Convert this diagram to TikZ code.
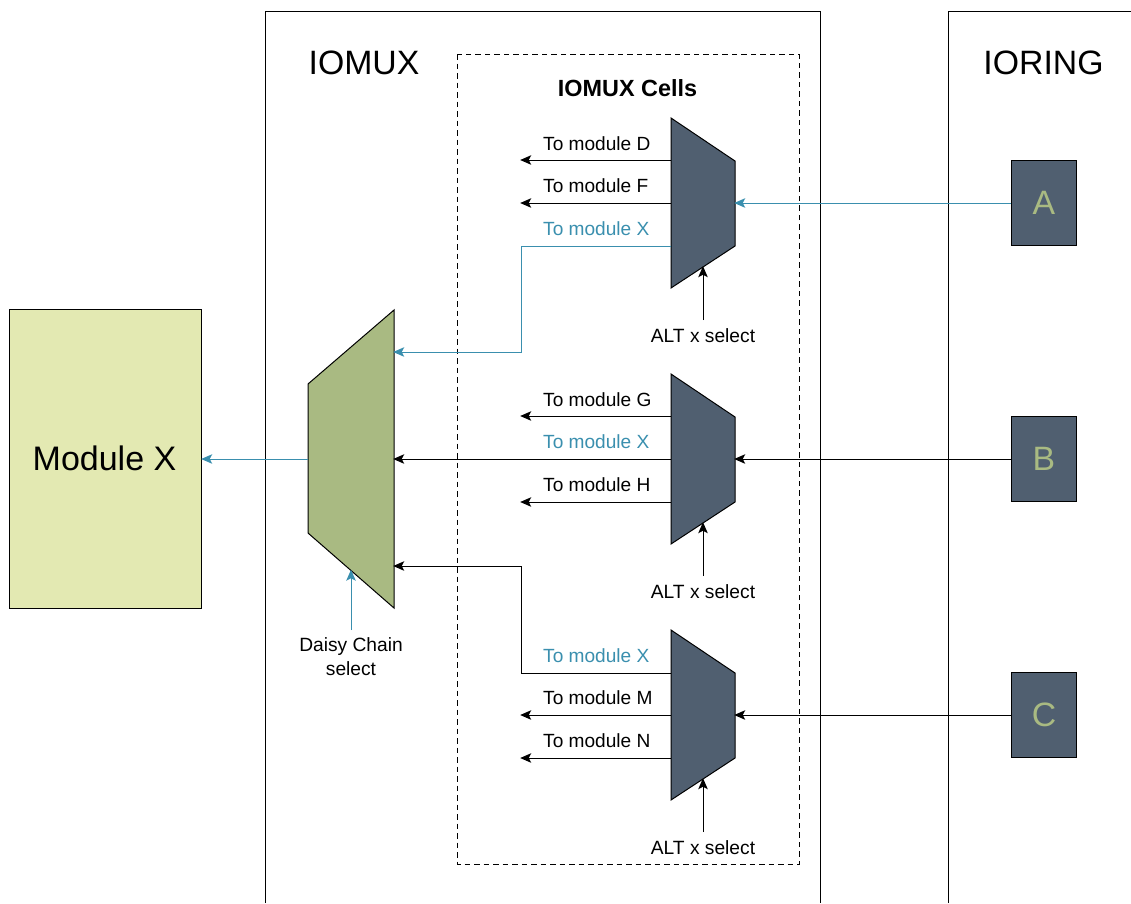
\documentclass[tikz,border=0pt]{standalone}
\usepackage{fontspec}
\setmainfont{Liberation Sans}
\usetikzlibrary{arrows.meta}
\definecolor{teal}{HTML}{3A8FAE}
\definecolor{slate}{HTML}{505F70}
\definecolor{olive}{HTML}{A9BA82}
\definecolor{pale}{HTML}{E3E9B2}
\tikzset{
  x=1pt,y=-1pt,
  conn/.style={line width=1pt,shorten >=-0.8pt,-{Stealth[length=11pt,width=9.5pt,inset=2.5pt]}},
  tealconn/.style={conn,draw=teal},
  muxshape/.style={fill=slate,draw=black,line width=1pt},
  frameline/.style={draw=black,line width=1pt},
  lbl/.style={font=\fontsize{19.1}{21}\selectfont,inner sep=0pt,anchor=base west},
  tlbl/.style={lbl,text=teal},
  sel/.style={font=\fontsize{19.2}{24}\selectfont,inner sep=0pt,align=center},
  big/.style={font=\fontsize{33.8}{36}\selectfont,inner sep=0pt},
  pad/.style={fill=slate,draw=black,line width=1pt,minimum width=65pt,minimum height=85pt,inner sep=0pt,text=olive,font=\fontsize{33.8}{36}\selectfont},
}
\begin{document}
\begin{tikzpicture}
\useasboundingbox (0,0) rectangle (1131,903);
% frames
\draw[frameline] (265.5,903) -- (265.5,11) -- (820.5,11) -- (820.5,903);
\draw[frameline] (948,903) -- (948,11) -- (1131,11);
\draw[line width=1pt,dash pattern=on 5.5pt off 4pt] (457.5,54) rectangle (799,864);
\node[big] (tiomux) at (364,63) {IOMUX};
\node[big] (tioring) at (1043.5,63) {IORING};
\node[inner sep=0pt,font=\fontsize{23.4}{25}\selectfont\bfseries] (tcells) at (627.5,88) {IOMUX Cells};
% module X
\node[fill=pale,draw=black,line width=1pt,minimum width=192pt,minimum height=299pt,inner sep=0pt,font=\fontsize{34}{36}\selectfont] (modx) at (105.5,458.5) {\hspace{-2pt}Module X};
% daisy mux
\draw[fill=olive,draw=black,line width=1pt] (394,310) -- (394,608) -- (308,533) -- (308,384) -- cycle;
\coordinate (dout) at (308,459);
\coordinate (din1) at (394,352);
\coordinate (din2) at (394,459);
\coordinate (din3) at (394,566);
\coordinate (dsel) at (351,570.5);
\node[sel] (dtext) at (351,656.5) {Daisy Chain\\select};
\coordinate (dtop) at (351,630);
\draw[tealconn] (dout) -- (modx.east |- dout);
\draw[tealconn] (dtop) -- (dsel);
% muxes
\draw[muxshape] (671,118) -- (735,161) -- (735,246) -- (671,288) -- cycle;
\draw[muxshape] (671,374) -- (735,417) -- (735,502) -- (671,544) -- cycle;
\draw[muxshape] (671,630) -- (735,673) -- (735,758) -- (671,800) -- cycle;
% pads
\node[pad] (A) at (1044,202.5) {A};
\node[pad] (B) at (1044,458.5) {B};
\node[pad] (C) at (1044,714.5) {C};
% ports mux 1
\coordinate (m1a) at (671,160); \coordinate (e1a) at (521,160);
\coordinate (m1b) at (671,203); \coordinate (e1b) at (521,203);
\coordinate (m1c) at (671,246); \coordinate (k1a) at (521.5,246); \coordinate (k1b) at (521.5,352);
\coordinate (m1i) at (735,203);
\coordinate (m1s) at (703,267); \coordinate (s1) at (703,320);
% ports mux 2
\coordinate (m2a) at (671,416); \coordinate (e2a) at (521,416);
\coordinate (m2b) at (671,459);
\coordinate (m2c) at (671,502); \coordinate (e2c) at (521,502);
\coordinate (m2i) at (735,459);
\coordinate (m2s) at (703,523); \coordinate (s2) at (703,576);
% ports mux 3
\coordinate (m3a) at (671,673); \coordinate (k3a) at (521.5,673); \coordinate (k3b) at (521.5,566);
\coordinate (m3b) at (671,715); \coordinate (e3b) at (521,715);
\coordinate (m3c) at (671,758); \coordinate (e3c) at (521,758);
\coordinate (m3i) at (735,715);
\coordinate (m3s) at (703,779); \coordinate (s3) at (703,832);
% connectors
\draw[conn] (m1a) -- (e1a);
\draw[conn] (m1b) -- (e1b);
\draw[tealconn] (m1c) -- (k1a) -- (k1b) -- (din1);
\draw[tealconn] (A.west |- m1i) -- (m1i);
\draw[conn] (s1) -- (m1s);
\draw[conn] (m2a) -- (e2a);
\draw[conn] (m2b) -- (din2);
\draw[conn] (m2c) -- (e2c);
\draw[conn] (B.west |- m2i) -- (m2i);
\draw[conn] (s2) -- (m2s);
\draw[conn] (m3a) -- (k3a) -- (k3b) -- (din3);
\draw[conn] (m3b) -- (e3b);
\draw[conn] (m3c) -- (e3c);
\draw[conn] (C.west |- m3i) -- (m3i);
\draw[conn] (s3) -- (m3s);
% labels
\node[lbl] (l1) at (543,150) {To module D};
\node[lbl] (l2) at (543,192) {To module F};
\node[tlbl] (l3) at (543,235) {To module X};
\node[sel] (a1) at (703,335.5) {ALT x select};
\node[lbl] (l4) at (543,406) {To module G};
\node[tlbl] (l5) at (543,448) {To module X};
\node[lbl] (l6) at (543,491) {To module H};
\node[sel] (a2) at (703,591.5) {ALT x select};
\node[tlbl] (l7) at (543,662) {To module X};
\node[lbl] (l8) at (543,704) {To module M};
\node[lbl] (l9) at (543,747) {To module N};
\node[sel] (a3) at (703,847.5) {ALT x select};
\end{tikzpicture}
\end{document}
